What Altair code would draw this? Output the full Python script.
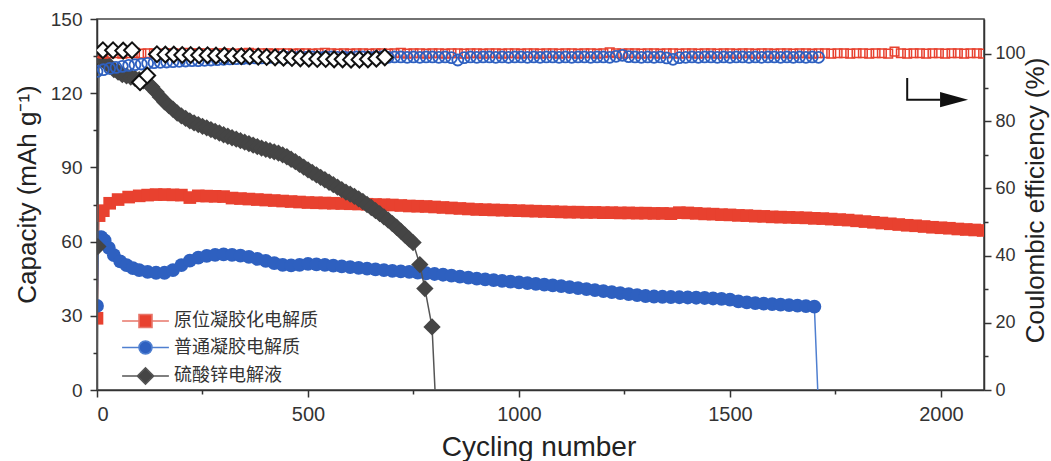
import altair as alt
import pandas as pd

# ---------------- data ----------------
series_names = ["原位凝胶化电解质", "普通凝胶电解质", "硫酸锌电解液"]

# capacity of the in-situ gel electrolyte (red squares)
red_cap_cycles = [0, 5, 15, 30, 50, 75] + list(range(100, 2101, 20))
red_cap_values = [
    29.0, 70.5, 72.5, 75.5, 77.0, 78.0,
    78.5, 78.8, 79.0, 79.0, 78.9, 78.8, 77.8, 78.5, 78.4, 78.3, 78.2,
    77.6, 77.4, 77.2, 77.0, 76.8, 76.6, 76.4, 76.2, 76.0, 75.8,
    75.7, 75.6, 75.5, 75.4, 75.3, 75.2, 75.1, 75.0, 74.9, 74.8,
    74.6, 74.4, 74.3, 74.2, 74.0, 73.8, 73.6, 73.4, 73.2, 73.0,
    72.9, 72.8, 72.7, 72.6, 72.5, 72.4, 72.3, 72.2, 72.1, 72.0,
    71.9, 71.9, 71.8, 71.8, 71.7, 71.7, 71.6, 71.6, 71.5, 71.5,
    71.4, 71.4, 71.3, 71.7, 71.6, 71.4, 71.2, 71.1, 70.9, 70.8,
    70.6, 70.5, 70.3, 70.2, 70.0, 69.9, 69.8, 69.7, 69.6, 69.4,
    69.3, 69.1, 68.9, 68.7, 68.4, 68.1, 67.8, 67.5, 67.2, 66.9,
    66.6, 66.4, 66.1, 65.8, 65.6, 65.4, 65.1, 64.9, 64.7, 64.5,
]

# capacity of the ordinary gel electrolyte (blue circles)
blue_cap_cycles = [0, 4, 10, 18, 28, 40, 55, 70, 85, 100] + list(range(120, 1701, 20))
blue_cap_values = [
    34.0, 61.5, 61.8, 60.5, 57.5, 54.5, 52.0, 50.5, 49.3, 48.5,
    47.8, 47.4, 47.4, 48.5, 50.5, 52.3, 53.5, 54.2, 54.6, 54.8,
    54.6, 54.3, 53.8, 53.0, 52.2, 51.3, 50.6, 50.4, 50.6, 51.0,
    50.8, 50.6, 50.3, 50.0, 49.7, 49.4, 49.1, 48.8, 48.5, 48.2,
    48.0, 47.8, 47.5, 47.2, 46.9, 46.6, 46.2, 45.8, 45.4, 45.0,
    44.7, 44.4, 44.1, 43.8, 43.5, 43.2, 42.9, 42.6, 42.3, 42.0,
    41.6, 41.2, 40.8, 40.4, 40.0, 39.6, 39.2, 38.8, 38.4, 38.0,
    37.8, 37.7, 37.6, 37.5, 37.4, 37.3, 37.2, 37.0, 36.8, 36.5,
    35.8, 35.4, 35.1, 34.9, 34.7, 34.5, 34.3, 34.1, 33.9, 33.7,
]
blue_fail_cycle = 1708
blue_fail_cap = 0.0

# capacity of the ZnSO4 liquid electrolyte (gray diamonds)
gray_start_cycle = 0
gray_start_cap = 0.0
gray_cap_cycles = [2, 5] + list(range(10, 741, 10)) + [749, 765, 777, 794]
gray_cap_values = [
    58.0, 136.0,
    134.0, 132.5, 131.0, 129.5, 128.5, 127.5, 127.0, 126.5, 126.0, 125.5,
    125.0, 124.0, 122.5, 120.5, 118.5, 116.5, 115.0, 113.5, 112.0, 110.8,
    109.8, 108.8, 108.0, 107.3, 106.6, 106.0, 105.3, 104.6, 103.9, 103.2,
    102.6, 102.0, 101.4, 100.8, 100.2, 99.6, 99.0, 98.4, 97.8, 97.3,
    96.8, 96.3, 95.8, 95.1, 94.3, 93.3, 92.3, 91.2, 90.1, 89.0,
    88.0, 87.0, 86.0, 85.0, 84.0, 83.0, 82.0, 81.0, 80.0, 79.2,
    78.3, 77.3, 76.2, 75.0, 73.8, 72.5, 71.3, 70.0, 68.7, 67.3,
    65.8, 64.2, 62.6, 61.0,
    59.6, 50.7, 41.0, 25.5,
]
gray_fail_cycle = 801
gray_fail_cap = 0.0

# coulombic efficiencies (hollow markers, right axis)
red_eff_cycles = list(range(0, 2101, 15))
red_eff_values = [
    100.3, 100.1, 100.2, 100.2, 100.1, 100.2, 100.3, 100.1, 100.2, 100.2,
    100.1, 100.2, 100.2, 100.1, 100.3, 100.2, 100.1, 100.2, 100.2, 100.1,
    100.2, 100.2, 100.1, 100.2, 100.3, 100.1, 100.2, 100.2, 100.1, 100.2,
    100.2, 100.1, 100.2, 100.2, 100.1, 100.2, 100.3, 100.2, 100.1, 100.2,
    100.1, 100.2, 100.2, 100.1, 100.2, 100.2, 100.1, 100.2, 100.3, 100.1,
    100.2, 100.2, 100.1, 100.2, 100.2, 100.1, 100.2, 100.2, 100.1, 100.2,
    100.2, 100.1, 100.2, 100.2, 100.1, 100.2, 100.2, 100.1, 100.2, 100.2,
    100.1, 100.2, 100.2, 100.1, 100.2, 100.2, 100.1, 100.2, 100.2, 100.1,
    100.2, 100.5, 100.2, 100.1, 100.2, 100.2, 100.1, 100.2, 100.2, 100.1,
    100.2, 100.2, 100.1, 100.2, 100.2, 100.1, 100.2, 100.2, 100.1, 100.2,
    100.2, 100.1, 100.2, 100.2, 100.1, 100.2, 100.2, 100.1, 100.2, 100.2,
    100.1, 100.2, 100.2, 100.1, 100.2, 100.2, 100.1, 100.2, 100.2, 100.1,
    100.2, 100.2, 100.1, 100.2, 100.2, 100.1, 100.7, 100.2, 100.1, 100.2,
    100.2, 100.1, 100.2, 100.2, 100.1, 100.2, 100.2, 100.1, 100.2, 100.2,
    100.1,
]

blue_eff_cycles = list(range(0, 1711, 15))
blue_eff_values = [
    94.8, 95.3, 95.7, 96.0, 96.3, 96.6, 96.8, 97.0, 97.2, 97.4,
    97.5, 97.6, 97.7, 97.8, 97.9, 98.0, 98.0, 98.1, 98.2, 98.3,
    98.4, 98.5, 98.6, 98.6, 98.7, 98.8, 98.8, 98.9, 98.9, 99.0,
    99.0, 99.0, 99.1, 99.0, 99.1, 99.0, 99.1, 99.1, 99.0, 99.1,
    99.0, 99.1, 99.1, 99.0, 99.1, 99.1, 99.0, 99.1, 99.1, 99.0,
    99.1, 99.0, 99.1, 99.1, 99.0, 99.1, 98.9, 98.2, 98.9, 99.1,
    99.0, 99.1, 99.1, 99.0, 99.1, 99.0, 99.1, 99.1, 99.0, 99.1,
    99.0, 99.1, 99.1, 99.0, 99.1, 99.0, 99.1, 99.1, 99.0, 99.1,
    99.1, 99.0, 99.3, 99.6, 99.2, 99.1, 99.0, 99.1, 99.0, 99.1,
    98.8, 98.4, 98.9, 99.0, 99.1, 99.0, 99.1, 99.1, 99.0, 99.1,
    99.0, 99.1, 99.1, 99.0, 99.1, 99.0, 99.1, 99.1, 99.0, 99.1,
    99.0, 99.1, 99.0, 99.1, 99.0,
]

gray_eff_cycles = [14, 38, 62, 83, 102, 119] + list(range(142, 683, 20))
gray_eff_values = [
    101.1, 101.1, 101.0, 101.1, 91.6, 93.6,
    99.9, 99.8, 99.8, 99.7, 99.7, 99.6, 99.6, 99.5, 99.5, 99.4,
    99.3, 99.3, 99.2, 99.1, 99.0, 98.9, 98.8, 98.7, 98.6, 98.5,
    98.5, 98.4, 98.4, 98.3, 98.3, 98.4, 98.6, 99.0,
]

# "points to right axis" arrow annotation (data units of the capacity axis)
arrow_cycles = [1920, 1920, 1998]
arrow_caps = [126.1, 117.4, 117.4]
arrow_head_cycle = 2031
arrow_head_cap = 117.4

# ---------------- styling ----------------
RED, RED_LINE = "#e8412f", "#e8776b"
BLUE, BLUE_LINE = "#2e60c0", "#4f7fd0"
GRAY, GRAY_LINE = "#454545", "#555555"
AX = "#333333"
FONT = "Liberation Sans"

legend_paths = [
    "M-3.6,0H-1M1,0H3.6M-1,-1H1V1H-1Z",
    "M-3.6,0H-1M1,0H3.6M1,0A1,1 0 1,1 -1,0A1,1 0 1,1 1,0Z",
    "M-3.6,0H-1.25M1.25,0H3.6M-1.25,0L0,-1.25L1.25,0L0,1.25Z",
]
arrow_head_path = "M-1,-0.54L1,0L-1,0.54Z"

x_axis = alt.Axis(
    values=list(range(0, 2001, 250)), format="d",
    labelExpr="datum.value % 500 === 0 ? datum.label : ''",
    tickSize={"condition": {"test": "datum.value % 500 === 0", "value": 7}, "value": 4},
    labelFontSize=20, labelPadding=7,
    titleFontSize=28, titleX=441.5, titleY=65, titleBaseline="alphabetic",
    titleAlign="center",
)
x_scale = alt.Scale(domain=[0, 2102], nice=False, zero=False)

cap_axis = alt.Axis(
    values=list(range(0, 151, 15)),
    labelExpr="datum.value % 30 === 0 ? datum.label : ''",
    tickSize={"condition": {"test": "datum.value % 30 === 0", "value": 7}, "value": 4},
    labelFontSize=19, labelPadding=8,
    titleFontSize=26, titleAngle=270, titleX=-70, titleY=175,
    titleAlign="center", titleBaseline="middle",
)
cap_scale = alt.Scale(domain=[0, 150], nice=False, zero=False)
CAP_TITLE = "Capacity (mAh g⁻¹)"

eff_axis = alt.Axis(
    orient="right",
    values=list(range(0, 101, 10)),
    labelExpr="datum.value % 20 === 0 ? datum.label : ''",
    tickSize={"condition": {"test": "datum.value % 20 === 0", "value": 7}, "value": 4},
    labelFontSize=18, labelPadding=4,
    titleFontSize=26, titleAngle=270, titleX=51, titleY=181,
    titleAlign="center", titleBaseline="middle",
)
eff_scale = alt.Scale(domain=[0, 110.4], nice=False, zero=False)
EFF_TITLE = "Coulombic efficiency (%)"


def X():
    return alt.X("cycle:Q", scale=x_scale, axis=x_axis, title="Cycling number")


def YC():
    return alt.Y("cap:Q", scale=cap_scale, axis=cap_axis, title=CAP_TITLE)


def YE():
    return alt.Y("eff:Q", scale=eff_scale, axis=eff_axis, title=EFF_TITLE)


# ---------------- dataframes ----------------
red_cap = pd.DataFrame({"cycle": red_cap_cycles, "cap": red_cap_values})
blue_cap = pd.DataFrame({"cycle": blue_cap_cycles, "cap": blue_cap_values})
blue_cap_line = pd.DataFrame({"cycle": blue_cap_cycles + [blue_fail_cycle],
                              "cap": blue_cap_values + [blue_fail_cap]})
gray_cap = pd.DataFrame({"cycle": gray_cap_cycles, "cap": gray_cap_values})
gray_cap_line = pd.DataFrame({"cycle": [gray_start_cycle] + gray_cap_cycles + [gray_fail_cycle],
                              "cap": [gray_start_cap] + gray_cap_values + [gray_fail_cap]})
red_eff = pd.DataFrame({"cycle": red_eff_cycles, "eff": red_eff_values})
blue_eff = pd.DataFrame({"cycle": blue_eff_cycles, "eff": blue_eff_values})
gray_eff = pd.DataFrame({"cycle": gray_eff_cycles, "eff": gray_eff_values})
arrow_df = pd.DataFrame({"cycle": arrow_cycles, "cap": arrow_caps, "k": [0, 1, 2]})
arrow_head_df = pd.DataFrame({"cycle": [arrow_head_cycle], "cap": [arrow_head_cap]})
legend_df = pd.DataFrame({"series": series_names})

# ---------------- capacity layers ----------------
red_line = alt.Chart(red_cap).mark_line(color=RED_LINE, strokeWidth=1.5, clip=True).encode(x=X(), y=YC())
red_pts = alt.Chart(red_cap).mark_point(shape="square", filled=True, size=160, color=RED, opacity=1,
                                        clip=True).encode(x=X(), y=YC())
blue_line = alt.Chart(blue_cap_line).mark_line(color=BLUE_LINE, strokeWidth=1.5, clip=True).encode(x=X(), y=YC())
blue_pts = alt.Chart(blue_cap).mark_point(shape="circle", filled=True, size=190, color=BLUE, opacity=1,
                                          clip=True).encode(x=X(), y=YC())
gray_line = alt.Chart(gray_cap_line).mark_line(color=GRAY_LINE, strokeWidth=1.5, clip=True).encode(x=X(), y=YC())
gray_pts = alt.Chart(gray_cap).mark_point(shape="diamond", filled=True, size=300, color=GRAY, opacity=1,
                                          clip=True).encode(x=X(), y=YC())
arrow_line = alt.Chart(arrow_df).mark_line(color="#111111", strokeWidth=2).encode(
    x=X(), y=YC(), order="k:Q")
arrow_head = alt.Chart(arrow_head_df).mark_point(shape=arrow_head_path, size=784, filled=True,
                                                 color="#111111", opacity=1).encode(x=X(), y=YC())

legend_cfg = alt.Legend(
    title=None, orient="none", legendX=39.5, legendY=293, padding=0,
    symbolSize=169, symbolStrokeWidth=1.6, labelFont="Noto Sans CJK SC",
    labelFontSize=18, labelColor=AX, labelOffset=19.5, rowPadding=6.5,
)
legend_layer = alt.Chart(legend_df).mark_point(filled=True, opacity=1, strokeWidth=1.6).encode(
    color=alt.Color("series:N", scale=alt.Scale(domain=series_names, range=[RED, BLUE, GRAY]),
                    legend=legend_cfg),
    stroke=alt.Stroke("series:N", scale=alt.Scale(domain=series_names,
                                                  range=[RED_LINE, BLUE_LINE, GRAY_LINE]),
                      legend=legend_cfg),
    shape=alt.Shape("series:N", scale=alt.Scale(domain=series_names, range=legend_paths),
                    legend=legend_cfg),
).transform_filter("datum.series === 'none'")

cap_group = alt.layer(red_line, red_pts, blue_line, blue_pts, gray_line, gray_pts,
                      arrow_line, arrow_head, legend_layer)

# ---------------- efficiency layers ----------------
red_eff_pts = alt.Chart(red_eff).mark_point(shape="square", filled=False, size=75, color=RED,
                                            strokeWidth=1.5, opacity=1, clip=True).encode(x=X(), y=YE())
blue_eff_pts = alt.Chart(blue_eff).mark_point(shape="circle", filled=False, size=120, color=BLUE,
                                              strokeWidth=1.8, opacity=1, clip=True).encode(x=X(), y=YE())
gray_eff_pts = alt.Chart(gray_eff).mark_point(shape="diamond", size=250, fill="white", stroke="#111111",
                                              strokeWidth=2, opacity=1, clip=True).encode(x=X(), y=YE())
eff_group = alt.layer(red_eff_pts, blue_eff_pts, gray_eff_pts)

chart = alt.layer(cap_group, eff_group).resolve_scale(y="independent").properties(
    width=887, height=371, autosize="none",
    padding={"left": 97, "top": 19, "right": 67, "bottom": 71},
).configure_view(stroke="#444444", strokeWidth=1.5).configure_axis(
    grid=False, domainColor=AX, domainWidth=1.5, tickColor=AX, tickWidth=1.5,
    labelColor=AX, titleColor="#222222", labelFont=FONT, titleFont=FONT,
    titleFontWeight="normal",
)

chart.save("out.html", embed_options={"renderer": "svg", "actions": False})
